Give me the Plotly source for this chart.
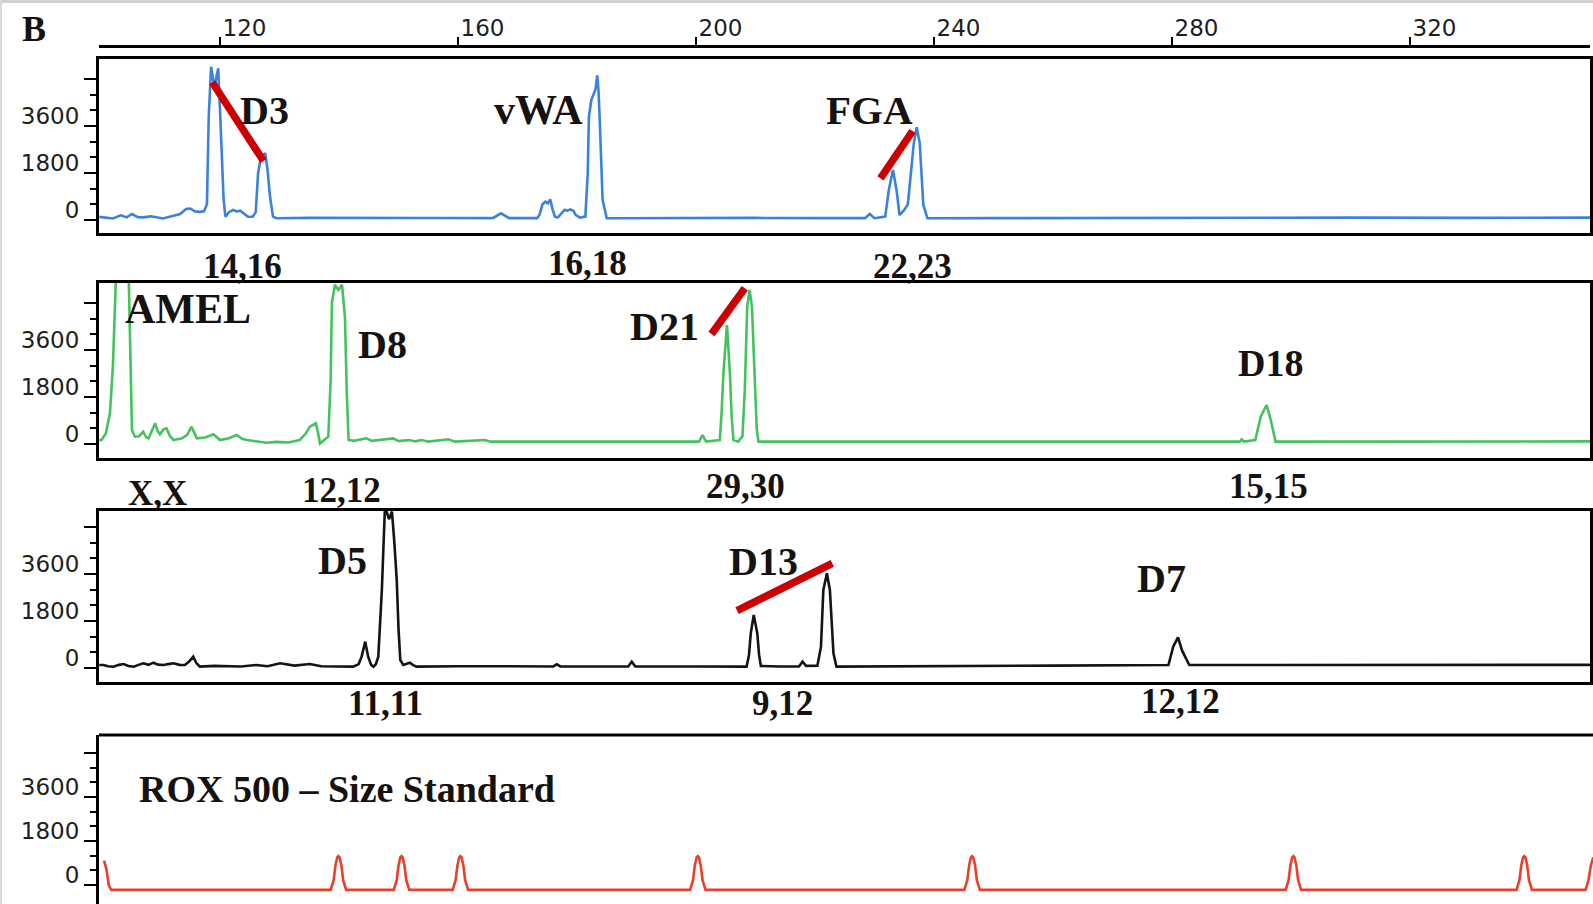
import plotly.graph_objects as go

W, H = 1593, 904

# ---- size ruler (bp) ----
ruler_ticks = [120, 160, 200, 240, 280, 320]

# ---- blue dye: D3, vWA, FGA ----
blue_bp = [99.7, 100.8, 102.0, 103.3, 104.3, 105.2, 106.2, 107.1, 108.4, 110.4, 112.0, 113.3, 114.3, 115.0,
           115.8, 116.6, 117.3, 117.8, 118.1, 118.5, 118.9, 119.2, 119.5, 119.7, 120.0, 120.3, 120.6, 120.9,
           121.5, 122.2, 122.8, 123.4, 124.0, 124.7, 125.5, 126.0, 126.4, 126.8, 127.2, 127.6, 128.0, 128.4,
           128.9, 129.5, 135.0, 145.0, 155.0, 165.5, 166.0, 167.2, 168.0, 168.6, 173.3, 173.7, 174.2, 174.7,
           175.1, 175.5, 175.9, 176.3, 176.8, 177.3, 177.9, 178.4, 178.9, 179.4, 179.8, 180.5, 181.4, 181.8,
           182.0, 182.4, 182.9, 183.1, 183.4, 183.6, 183.8, 184.1, 184.3, 185.0, 190.0, 200.0, 210.0, 220.0,
           228.4, 229.2, 230.0, 231.8, 232.4, 233.1, 233.7, 234.2, 235.0, 235.6, 236.1, 236.6, 237.1, 237.6,
           238.2, 238.9, 250.0, 270.0, 290.0, 310.0, 330.0, 350.3]
blue_rfu = [120, 90, 60, 180, 100, 230, 110, 100, 140, 60, 150, 230, 420, 440,
            330, 310, 330, 600, 3956, 5870, 5300, 5235, 5600, 5810, 4200, 2680, 800, 126,
            300, 383, 330, 357, 250, 126, 130, 300, 1800, 2300, 2480, 2560, 1900, 900,
            126, 65, 80, 65, 75, 70, 90, 255, 150, 70, 70, 200, 600, 702,
            640, 791, 400, 120, 100, 250, 383, 360, 409, 350, 190, 90, 128, 1800,
            3956, 4595, 4850, 5000, 5540, 5000, 3956, 1800, 766, 65, 70, 65, 80, 70,
            70, 230, 70, 130, 1150, 1915, 1150, 190, 383, 600, 1660, 2937, 3550, 2937,
            575, 65, 70, 80, 70, 90, 80, 90]

# ---- green dye: AMEL, D8, D21, D18 ----
green_bp = [99.7, 100.1, 100.8, 101.5, 102.0, 102.4, 102.6, 104.6, 104.9, 105.2, 105.7, 106.4, 107.1, 107.6,
            108.0, 108.6, 109.1, 109.5, 109.9, 110.5, 111.0, 111.6, 112.2, 113.6, 114.5, 115.2, 115.7, 116.1,
            117.5, 118.9, 120.0, 121.5, 122.8, 123.7, 124.5, 126.0, 127.8, 129.5, 131.5, 133.4, 134.4, 135.1,
            136.1, 136.5, 136.8, 137.5, 138.2, 138.6, 138.8, 139.3, 139.9, 140.5, 141.0, 141.3, 141.6, 142.5,
            143.3, 144.6, 145.5, 147.0, 149.1, 150.0, 151.9, 152.8, 153.9, 155.0, 158.4, 159.5, 164.5, 165.5,
            180.0, 195.0, 200.5, 201.1, 201.7, 204.0, 204.3, 204.6, 205.2, 205.7, 206.0, 206.3, 207.1, 207.8,
            208.2, 208.6, 209.0, 209.4, 209.9, 210.2, 210.5, 230.0, 260.0, 290.0, 291.4, 291.7, 292.1, 294.0,
            294.9, 295.9, 296.6, 297.4, 320.0, 350.3]
green_rfu = [150, 153, 400, 1175, 3000, 5400, 7000, 7000, 4110, 536, 280, 300, 472, 250,
             217, 500, 792, 500, 370, 560, 600, 300, 153, 217, 350, 664, 400, 217,
             250, 370, 153, 220, 345, 200, 153, 100, 50, 80, 60, 153, 400, 664,
             792, 400, 20, 150, 280, 2500, 5400, 6100, 5900, 6100, 4856, 2000, 153, 120,
             150, 217, 120, 150, 217, 110, 153, 100, 153, 90, 179, 90, 153, 90,
             90, 90, 90, 345, 90, 153, 1200, 2707, 4558, 2707, 1000, 153, 90, 300,
             2068, 5260, 5900, 5260, 2068, 600, 90, 90, 90, 90, 90, 179, 90, 153,
             1047, 1494, 919, 90, 100, 100]

# ---- yellow dye (drawn black): D5, D13, D7 ----
black_bp = [99.7, 100.4, 101.2, 102.1, 103.0, 103.8, 104.6, 105.5, 106.3, 107.1, 108.0, 108.8, 109.6, 110.5,
            111.3, 112.2, 113.2, 114.1, 114.8, 115.5, 116.0, 116.6, 119.0, 121.7, 123.5, 126.1, 128.0, 130.1,
            132.5, 135.1, 137.0, 142.4, 143.3, 143.8, 144.4, 144.9, 145.4, 145.8, 146.2, 146.6, 147.2, 147.7,
            148.0, 148.4, 148.9, 149.3, 149.7, 150.0, 150.3, 150.8, 151.4, 151.9, 152.4, 153.0, 160.0, 170.0,
            176.0, 176.6, 177.2, 185.0, 188.6, 189.2, 189.8, 200.0, 208.5, 208.9, 209.2, 209.7, 210.3, 210.6,
            210.9, 214.0, 217.3, 217.9, 218.5, 220.4, 221.0, 221.4, 222.0, 222.5, 223.1, 223.6, 240.0, 260.0,
            279.4, 280.2, 281.0, 281.7, 282.9, 300.0, 330.0, 350.3]
black_rfu = [115, 115, 70, 51, 120, 153, 80, 51, 120, 179, 120, 204, 130, 115,
             150, 179, 120, 115, 250, 434, 200, 51, 80, 77, 60, 115, 70, 179,
             90, 153, 70, 51, 150, 434, 1009, 434, 120, 51, 150, 434, 2987, 6050,
             5990, 5700, 5990, 4800, 3370, 1500, 306, 115, 150, 204, 120, 51, 70, 60,
             60, 140, 60, 55, 60, 243, 60, 55, 51, 500, 1328, 2030, 1328, 500,
             77, 60, 60, 243, 80, 90, 817, 2987, 3626, 2987, 562, 51, 80, 90,
             115, 817, 1175, 664, 115, 115, 120, 120]

# ---- red dye: ROX 500 size standard ----
red_bp = [100.5, 100.9, 101.3, 101.7,
          138.6, 139.1, 139.4, 139.7, 139.9, 140.1, 140.4, 140.7, 141.2,
          149.2, 149.7, 150.0, 150.3, 150.5, 150.7, 151.0, 151.3, 151.8,
          159.1, 159.6, 159.9, 160.2, 160.4, 160.6, 160.9, 161.2, 161.7,
          199.0, 199.5, 199.8, 200.1, 200.3, 200.5, 200.8, 201.1, 201.6,
          245.1, 245.6, 245.9, 246.2, 246.4, 246.6, 246.9, 247.2, 247.7,
          299.1, 299.6, 299.9, 300.2, 300.4, 300.6, 300.9, 301.2, 301.7,
          337.9, 338.4, 338.7, 339.0, 339.2, 339.4, 339.7, 340.0, 340.5,
          349.5, 350.0, 350.4, 350.8]
red_rfu = [1000, 650, 0, -200,
           -200, 200, 800, 1130, 1180, 1130, 800, 200, -200,
           -200, 200, 800, 1130, 1180, 1130, 800, 200, -200,
           -200, 200, 800, 1130, 1180, 1130, 800, 200, -200,
           -200, 200, 800, 1130, 1180, 1130, 800, 200, -200,
           -200, 200, 800, 1130, 1180, 1130, 800, 200, -200,
           -200, 200, 800, 1130, 1180, 1130, 800, 200, -200,
           -200, 200, 800, 1130, 1180, 1130, 800, 200, -200,
           -200, 200, 800, 1130]

# ---- red allele-pair bars: (bp start, rfu start, bp end, rfu end) per locus ----
bar_d3 = [118.7, 5274, 127.3, 2260]
bar_fga = [231.0, 1597, 236.4, 3409]
bar_d21 = [202.6, 4213, 208.2, 5963]
bar_d13 = [206.9, 2195, 222.9, 4010]

rfu_ticks = [0, 1800, 3600, 5400]
rfu_ticktext = ["0", "1800", "3600", ""]
rfu_minor = [600, 1200, 2400, 3000, 4200, 4800]


def px(x, y):
    return x / W, 1 - y / H


X0, X1 = 99 / W, 1590 / W
BP_RANGE = [99.66, 350.25]

fig = go.Figure()

panels = [
    # (trace bp, trace rfu, colour, y-range, top px, bottom px)
    (blue_bp, blue_rfu, "#3b82dc", [-498, 6166], 59, 233),
    (green_bp, green_rfu, "#44c25c", [-536, 6166], 283, 458),
    (black_bp, black_rfu, "#141414", [-536, 6013], 511, 682),
    (red_bp, red_rfu, "#ea3f2b", [-777, 6135], 735, 904),
]

tick_font = dict(family="DejaVu Sans", size=23, color="#1e1e1e")

for i, (bx, by, col, yr, top, bot) in enumerate(panels, start=1):
    xa = "x" if i == 1 else f"x{i}"
    ya = "y" if i == 1 else f"y{i}"
    fig.add_trace(go.Scatter(x=bx, y=by, mode="lines", xaxis=xa, yaxis=ya,
                             line=dict(color=col, width=2.6),
                             hoverinfo="skip", showlegend=False))
    last = i == 4
    xdom = [X0, 1.0] if last else [X0, X1]
    xr = [BP_RANGE[0], 350.76] if last else BP_RANGE
    fig.layout[f"xaxis{'' if i == 1 else i}"] = dict(
        domain=xdom, range=xr, anchor=ya, showline=not last, mirror=True,
        linecolor="black", linewidth=3, ticks="", showticklabels=False,
        showgrid=False, zeroline=False)
    fig.layout[f"yaxis{'' if i == 1 else i}"] = dict(
        domain=[1 - bot / H, 1 - top / H], range=yr, anchor=xa,
        showline=True, mirror=not last, linecolor="black", linewidth=3,
        ticks="outside", ticklen=12, tickwidth=2, tickcolor="black",
        tickmode="array", tickvals=rfu_ticks, ticktext=rfu_ticktext,
        ticklabelshift=-10, tickfont=tick_font,
        minor=dict(tickmode="array", tickvals=rfu_minor, ticks="outside",
                   ticklen=6, tickwidth=2, tickcolor="black"),
        showgrid=False, zeroline=False)

# top ruler in base pairs
fig.add_trace(go.Scatter(x=[None], y=[None], xaxis="x5", yaxis="y",
                         hoverinfo="skip", showlegend=False))
fig.update_layout(xaxis5=dict(
    overlaying="x", anchor="free", position=1 - 46 / H, side="top",
    range=BP_RANGE, showline=True, linecolor="black", linewidth=3,
    ticks="outside", ticklen=8, tickwidth=2, tickcolor="black",
    tickmode="array", tickvals=ruler_ticks, ticklabelposition="outside right",
    tickfont=tick_font, showgrid=False, zeroline=False))

# red bars joining allele peaks
for bar, xa, ya in [(bar_d3, "x", "y"), (bar_fga, "x", "y"),
                    (bar_d21, "x2", "y2"), (bar_d13, "x3", "y3")]:
    fig.add_trace(go.Scatter(x=[bar[0], bar[2]], y=[bar[1], bar[3]], mode="lines",
                             xaxis=xa, yaxis=ya, line=dict(color="#cc0000", width=7.5),
                             hoverinfo="skip", showlegend=False))

# top border of the size-standard panel (it runs off the bottom edge)
shapes = [
    dict(type="line", xref="paper", yref="paper", x0=X0, x1=1.0,
         y0=1 - 735 / H, y1=1 - 735 / H, line=dict(color="black", width=3)),
    dict(type="rect", xref="paper", yref="paper", x0=0, x1=1, y0=1 - 3 / H, y1=1,
         fillcolor="#cfcfcf", line=dict(width=0)),
    dict(type="rect", xref="paper", yref="paper", x0=0, x1=2 / W, y0=0, y1=1,
         fillcolor="#d8d8d8", line=dict(width=0)),
]

serif = "Liberation Serif"
txt_col = "#161210"
labels = [
    ("B", 34, 29, 36),
    ("D3", 264, 111, 40), ("vWA", 538, 110, 42), ("FGA", 869, 110, 41),
    ("14,16", 242, 266, 35), ("16,18", 587, 263, 35), ("22,23", 912, 266, 35),
    ("AMEL", 188, 309, 42), ("D8", 382, 345, 40), ("D21", 664, 326, 40), ("D18", 1270, 363, 38),
    ("X,X", 157, 493, 35), ("12,12", 341, 490, 35), ("29,30", 745, 486, 35), ("15,15", 1268, 486, 35),
    ("D5", 342, 560, 40), ("D13", 763, 561, 40), ("D7", 1161, 578, 40),
    ("11,11", 385, 703, 35), ("9,12", 782, 703, 35), ("12,12", 1180, 701, 35),
]
annotations = []
for text, x, y, size in labels:
    ax, ay = px(x, y)
    annotations.append(dict(text=text, x=ax, y=ay, xref="paper", yref="paper",
                            xanchor="center", yanchor="middle", showarrow=False,
                            font=dict(family=serif, size=size, color=txt_col, weight="bold")))
ax, ay = px(137, 789)
annotations.append(dict(text="ROX 500 \u2013 Size Standard", x=ax, y=ay, xref="paper", yref="paper",
                        xanchor="left", yanchor="middle", showarrow=False,
                        font=dict(family=serif, size=38, color=txt_col, weight="bold")))

fig.update_layout(width=W, height=H, margin=dict(l=0, r=0, t=0, b=0),
                  paper_bgcolor="white", plot_bgcolor="white", showlegend=False,
                  shapes=shapes, annotations=annotations)

fig.write_html("out.html")
